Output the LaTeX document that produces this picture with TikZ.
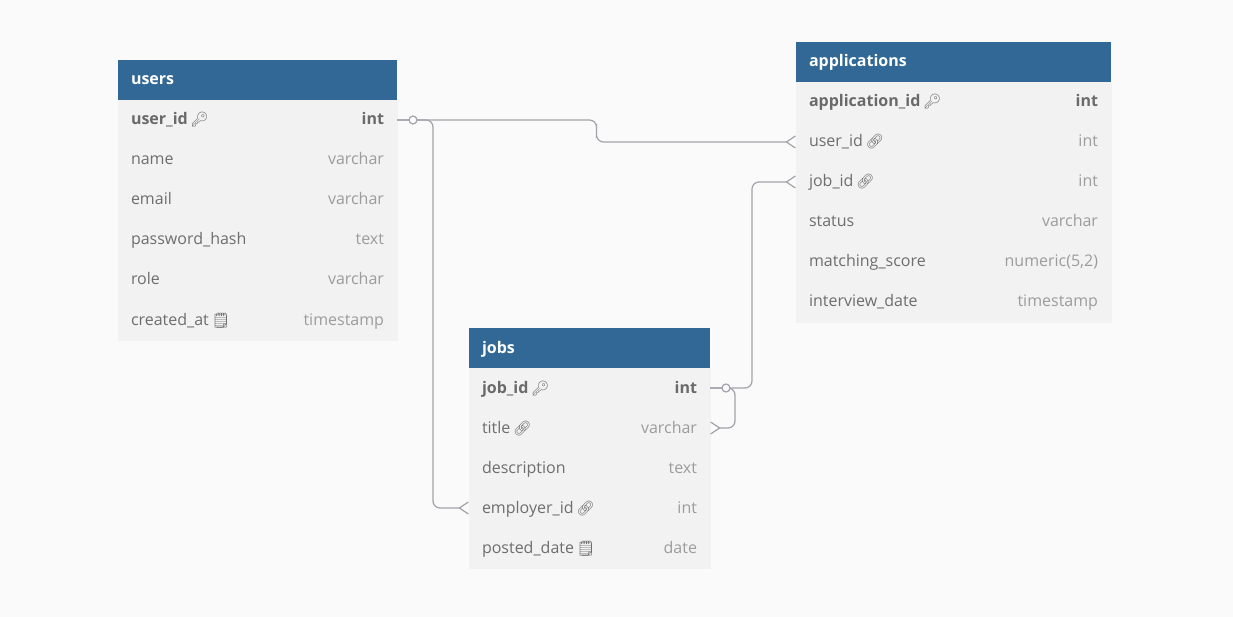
\documentclass[tikz,border=0pt]{standalone}
\usepackage{fontspec}
\setmainfont{Open Sans}
\newfontfamily\emo{Noto Emoji}
\usetikzlibrary{positioning,arrows.meta,calc}

\definecolor{hdrblue}{HTML}{316896}
\definecolor{rowgrey}{HTML}{F2F2F2}
\definecolor{pagebg}{HTML}{FAFAFA}
\definecolor{fldgrey}{HTML}{6E6E6E}
\definecolor{pkgrey}{HTML}{6A6A6A}
\definecolor{typegrey}{HTML}{9C9C9C}
\definecolor{linegrey}{HTML}{A2A2AA}

\newcommand{\pk}[1]{{\bfseries\color{pkgrey}#1}}
\newcommand{\ty}[1]{{\color{typegrey}#1}}
\newcommand{\keyicon}{\,{\emo\fontsize{14.5}{14.5}\selectfont\color{fldgrey}🔑}}
\newcommand{\linkicon}{\,{\emo\fontsize{14.5}{14.5}\selectfont\color{fldgrey}🔗}}
\newcommand{\noteicon}{\,{\emo\fontsize{14.5}{14.5}\selectfont\color{fldgrey}🗒}}

\tikzset{
  tblhead/.style={fill=hdrblue, text=white, font=\fontsize{16}{19}\selectfont\bfseries,
    minimum height=40pt, text width=#1, inner xsep=13pt, inner ysep=0pt, outer sep=0pt,
    text height=12pt, text depth=2pt, align=left, anchor=north west},
  tblrow/.style={fill=rowgrey, draw=rowgrey, line width=0.6pt, text=fldgrey,
    minimum height=40pt, text width=#1, inner xsep=13pt, inner ysep=0pt, outer sep=0pt,
    text height=12pt, text depth=2pt, align=left},
  conn/.style={draw=linegrey, line width=1.2pt, rounded corners=7pt},
  many/.style={-{Straight Barb[reversed,length=9pt,width=12pt]}},
  zeroone/.style={circle, draw=linegrey, line width=1.2pt, fill=pagebg,
    minimum size=8pt, inner sep=0pt}
}

\begin{document}
\begin{tikzpicture}[x=1pt, y=-1pt, node distance=0pt, font=\fontsize{16}{19}\selectfont]
  \fill[pagebg] (0,0) rectangle (1233,617);

  % users
  \node[tblhead=253pt] (users) at (118,60) {users};
  \node[tblrow=253pt, below=of users] (users-userid) {\pk{user\_id}\keyicon\hfill\pk{int}};
  \node[tblrow=253pt, below=of users-userid] (users-name) {name\hfill\ty{varchar}};
  \node[tblrow=253pt, below=of users-name] (users-email) {email\hfill\ty{varchar}};
  \node[tblrow=253pt, below=of users-email] (users-pwd) {password\_hash\hfill\ty{text}};
  \node[tblrow=253pt, below=of users-pwd] (users-role) {role\hfill\ty{varchar}};
  \node[tblrow=253pt, below=of users-role] (users-created) {created\_at\noteicon\hfill\ty{timestamp}};

  % applications
  \node[tblhead=289pt] (apps) at (796,42) {applications};
  \node[tblrow=289pt, below=of apps] (apps-appid) {\pk{application\_id}\keyicon\hfill\pk{int}};
  \node[tblrow=289pt, below=of apps-appid] (apps-userid) {user\_id\linkicon\hfill\ty{int}};
  \node[tblrow=289pt, below=of apps-userid] (apps-jobid) {job\_id\linkicon\hfill\ty{int}};
  \node[tblrow=289pt, below=of apps-jobid] (apps-status) {status\hfill\ty{varchar}};
  \node[tblrow=289pt, below=of apps-status] (apps-score) {matching\_score\hfill\ty{numeric(5,2)}};
  \node[tblrow=289pt, below=of apps-score] (apps-interview) {interview\_date\hfill\ty{timestamp}};

  % jobs
  \node[tblhead=215pt] (jobs) at (469,328) {jobs};
  \node[tblrow=215pt, below=of jobs] (jobs-jobid) {\pk{job\_id}\keyicon\hfill\pk{int}};
  \node[tblrow=215pt, below=of jobs-jobid] (jobs-title) {title\linkicon\hfill\ty{varchar}};
  \node[tblrow=215pt, below=of jobs-title] (jobs-desc) {description\hfill\ty{text}};
  \node[tblrow=215pt, below=of jobs-desc] (jobs-employer) {employer\_id\linkicon\hfill\ty{int}};
  \node[tblrow=215pt, below=of jobs-employer] (jobs-posted) {posted\_date\noteicon\hfill\ty{date}};

  % relations
  \draw[conn, many] (users-userid.east) -| ($(users-userid.east)!.5!(apps-userid.west)$) |- (apps-userid.west);
  \draw[conn, many] (users-userid.east) -- ++(36,0) |- (jobs-employer.west);
  \draw[conn, many] (jobs-jobid.east) -- ++(42,0) |- (apps-jobid.west);
  \draw[conn, many] (jobs-jobid.east) -- ++(25,0) |- (jobs-title.east);
  \node[zeroone] at ([xshift=16pt]users-userid.east) {};
  \node[zeroone] at ([xshift=16pt]jobs-jobid.east) {};
\end{tikzpicture}
\end{document}
